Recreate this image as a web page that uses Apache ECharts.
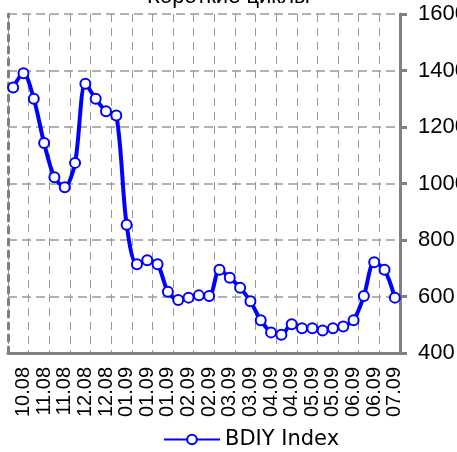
<!DOCTYPE html>
<html>
<head>
<meta charset="utf-8">
<script src="https://cdn.jsdelivr.net/npm/echarts@6/dist/echarts.min.js"></script>
<style>
  html, body { margin: 0; padding: 0; background: #fff; }
  #chart { width: 457px; height: 452px; }
</style>
</head>
<body>
<div id="chart"></div>
<script>
// подписи оси X (каждая на две недельные точки)
var tickLabels = ['10.08', '11.08', '11.08', '12.08', '12.08', '01.09', '01.09', '01.09', '02.09', '02.09',
    '03.09', '03.09', '04.09', '04.09', '05.09', '05.09', '06.09', '06.09', '07.09'];

// значения индекса BDIY
var bdiy = [1340, 1390, 1300, 1143, 1022, 987, 1073, 1353, 1300, 1256, 1241,
    854, 714, 728, 714,
    617, 588, 596, 604, 602,
    695, 666, 631, 583, 516,
    473, 465, 502, 488, 488, 480, 488, 494, 516,
    602, 721, 695, 596];

var yTicks = [400, 600, 800, 1000, 1200, 1400, 1600];

var categories = bdiy.map(function (v, i) {
    return tickLabels[Math.floor(i / 2)];
});

var grey = '#808080';
var font = 'Liberation Sans';

var myChart = echarts.init(document.getElementById('chart'));
var option = {
    animation: false,
    title: {
        text: 'Короткие циклы',
        left: 'center',
        top: -19,
        textStyle: { fontFamily: font, fontSize: 22, fontWeight: 'normal', color: '#000' }
    },
    grid: { left: 8, right: 57, top: 14, bottom: 99, containLabel: false, outerBoundsMode: 'none' },
    legend: {
        bottom: -3,
        left: 158,
        itemWidth: 56,
        itemHeight: 12,
        itemGap: 6,
        textStyle: { fontFamily: 'DejaVu Sans', fontSize: 21, color: '#000' },
        data: ['BDIY Index']
    },
    xAxis: {
        type: 'category',
        data: categories,
        boundaryGap: true,
        axisLine: { lineStyle: { color: grey, width: 3 } },
        axisTick: { show: false },
        axisLabel: {
            rotate: 90,
            interval: function (i) { return i % 2 === 1; },
            hideOverlap: false,
            showMinLabel: true,
            showMaxLabel: true,
            fontFamily: font,
            fontSize: 20,
            lineHeight: 20,
            color: '#000',
            margin: 14
        },
        splitLine: {
            show: true,
            interval: function (i) { return i % 2 === 0; },
            lineStyle: { color: '#999', width: 1, type: [8, 6] }
        }
    },
    yAxis: [{
        type: 'value',
        position: 'right',
        min: yTicks[0],
        max: yTicks[yTicks.length - 1],
        interval: 200,
        axisLine: { show: true, lineStyle: { color: grey, width: 3 } },
        axisTick: { show: true, inside: false, length: 7, lineStyle: { color: grey, width: 3 } },
        axisLabel: {
            fontFamily: font, fontSize: 22, color: '#000', margin: 18,
            formatter: function (v) { return String(v); }
        },
        splitLine: { show: true, lineStyle: { color: '#999', width: 1.5, type: [9, 5] } }
    }, {
        type: 'value',
        position: 'left',
        min: yTicks[0],
        max: yTicks[yTicks.length - 1],
        axisLine: { show: true, lineStyle: { color: grey, width: 3, type: [6, 6] } },
        axisTick: { show: false },
        axisLabel: { show: false },
        splitLine: { show: false }
    }],
    series: [{
        name: 'BDIY Index',
        type: 'line',
        data: bdiy,
        smooth: 0.3,
        symbol: 'circle',
        symbolSize: 10,
        showAllSymbol: true,
        itemStyle: { color: '#fff', borderColor: '#0000ff', borderWidth: 2 },
        lineStyle: { color: '#0000ff', width: 4 },
        z: 5
    }]
};
myChart.setOption(option);
</script>
</body>
</html>
